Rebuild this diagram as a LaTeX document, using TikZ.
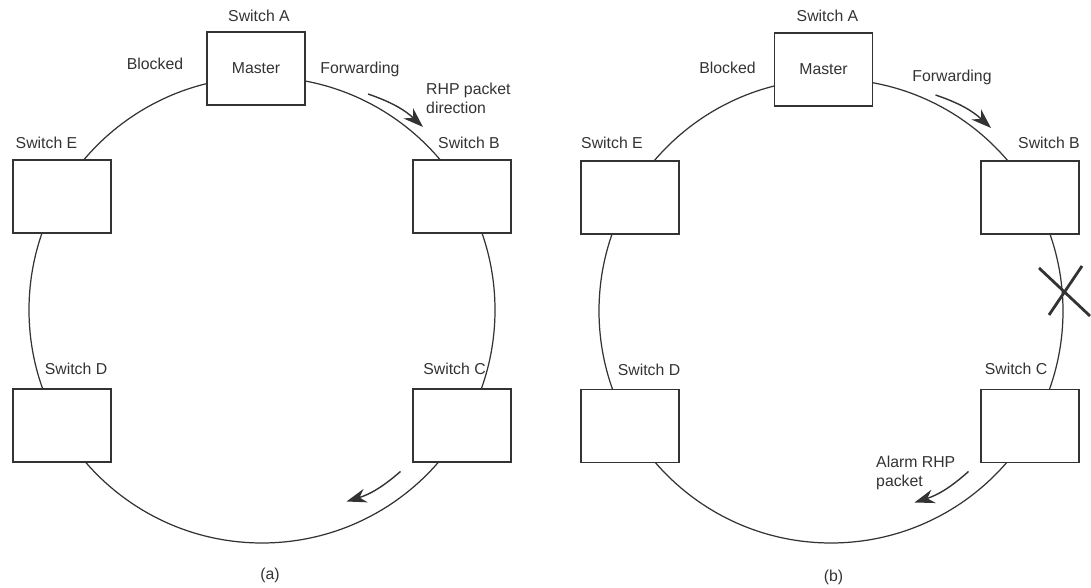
\documentclass[tikz,border=0pt]{standalone}
\usepackage{fontspec}
\setmainfont{Liberation Sans}
\usetikzlibrary{arrows.meta}
\definecolor{cLine}{HTML}{333333}

\begin{document}
\begin{tikzpicture}[
  every node/.style={font=\fontsize{9}{11}\selectfont, text=cLine},
  switch/.style={draw=cLine, fill=white, line width=0.8pt, minimum width=1.96cm, minimum height=1.46cm, inner sep=0pt},
  ring/.style={draw=cLine, line width=0.7pt},
  arrow/.style={-{Stealth[length=4mm,width=2.8mm]}, line width=0.8pt, draw=cLine},
  cross/.style={draw=cLine, line width=1.6pt},
]

\useasboundingbox (0,0) rectangle (21.82,11.76);

% (a) ring in normal state
\draw[ring] (5.24,5.56) circle (4.66);

\node[switch] (aSwA) at (5.12,10.39) {Master};
\node[switch] (aSwB) at (9.24,7.83) {};
\node[switch] (aSwC) at (9.24,3.25) {};
\node[switch] (aSwD) at (1.24,3.25) {};
\node[switch] (aSwE) at (1.24,7.83) {};

\node (aLabA) at (5.18,11.44) {Switch A};
\node (aLabB) at (9.38,8.90) {Switch B};
\node (aLabC) at (9.09,4.38) {Switch C};
\node (aLabD) at (1.52,4.38) {Switch D};
\node (aLabE) at (0.93,8.90) {Switch E};
\node (aBlk) at (3.10,10.48) {Blocked};
\node (aFwd) at (7.20,10.38) {Forwarding};
\node[anchor=west, align=left, font=\fontsize{9}{10.8}\selectfont] (aDir) at (8.40,9.79) {RHP packet\\direction};

\coordinate (aTopS) at (7.36,9.88);
\coordinate (aTopE) at (8.46,9.22);
\draw[arrow] (aTopS) to[bend left=12] (aTopE);
\coordinate (aBotS) at (8.01,2.33);
\coordinate (aBotE) at (6.93,1.73);
\draw[arrow] (aBotS) to[bend left=12] (aBotE);

\node (aCap) at (5.40,0.26) {(a)};

% (b) ring with a broken link
\draw[ring] (16.62,5.54) circle (4.64);

\node[switch] (bSwA) at (16.47,10.37) {Master};
\node[switch] (bSwB) at (20.60,7.81) {};
\node[switch] (bSwC) at (20.60,3.24) {};
\node[switch] (bSwD) at (12.60,3.24) {};
\node[switch] (bSwE) at (12.60,7.81) {};

\node (bLabA) at (16.55,11.44) {Switch A};
\node (bLabB) at (20.98,8.90) {Switch B};
\node (bLabC) at (20.32,4.38) {Switch C};
\node (bLabD) at (12.98,4.36) {Switch D};
\node (bLabE) at (12.24,8.90) {Switch E};
\node (bBlk) at (14.55,10.40) {Blocked};
\node (bFwd) at (19.04,10.22) {Forwarding};
\node[anchor=west, align=left, font=\fontsize{9}{10.8}\selectfont] (bAlarm) at (17.40,2.30) {Alarm RHP\\packet};

\coordinate (bTopS) at (18.71,9.86);
\coordinate (bTopE) at (19.82,9.20);
\draw[arrow] (bTopS) to[bend left=12] (bTopE);
\coordinate (bBotS) at (19.37,2.33);
\coordinate (bBotE) at (18.29,1.71);
\draw[arrow] (bBotS) to[bend left=12] (bBotE);

% link failure mark
\coordinate (bX1) at (20.78,6.40);
\coordinate (bX2) at (21.80,5.44);
\coordinate (bX3) at (21.64,6.44);
\coordinate (bX4) at (20.98,5.46);
\draw[cross] (bX1) -- (bX2);
\draw[cross] (bX3) -- (bX4);

\node (bCap) at (16.67,0.22) {(b)};

\end{tikzpicture}
\end{document}
